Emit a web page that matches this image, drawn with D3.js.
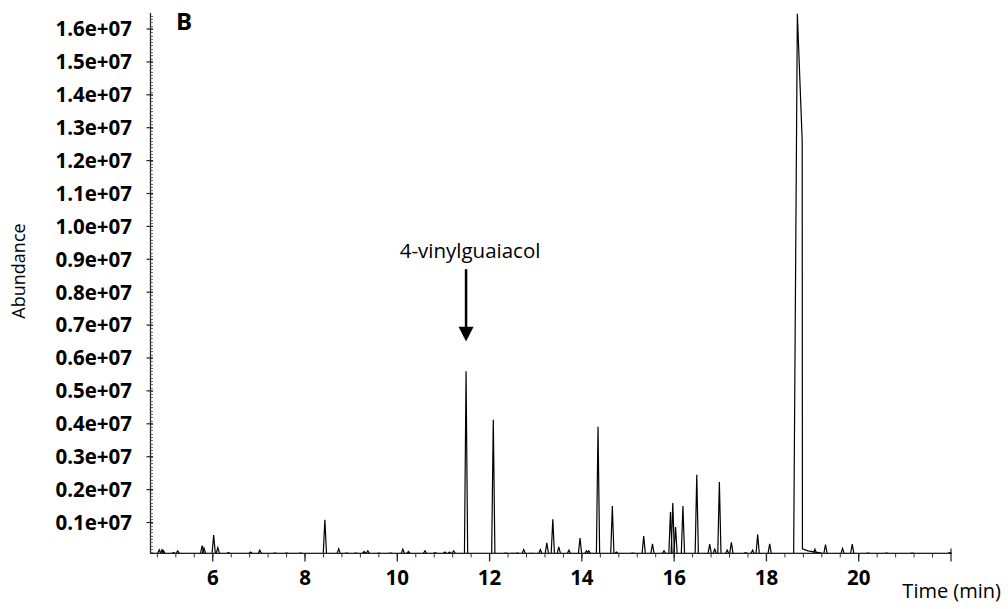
<!DOCTYPE html>
<html>
<head>
<meta charset="utf-8">
<script src="https://cdn.jsdelivr.net/npm/d3@7"></script>
<style>
  body { margin: 0; background: #fff; }
  .tick-label { font-family: "Open Sans", sans-serif; font-weight: bold; font-size: 20.5px; fill: #000; }
  .axis-title { font-family: "Open Sans", sans-serif; fill: #000; }
</style>
</head>
<body>
<div id="chart"></div>
<script>
// peak list (time in min, abundance)
var peakTimes = [4.84, 4.90, 4.93, 5.15, 5.24, 5.77, 5.81, 6.02, 6.11, 6.34, 6.82, 7.02, 7.35, 7.60, 7.90,
  8.43, 8.73, 8.90, 9.10, 9.28, 9.36, 9.60, 9.85, 10.12, 10.24, 10.60, 10.82, 11.03, 11.13, 11.22,
  11.49, 12.08, 12.35, 12.50, 12.60, 12.74, 12.90, 13.10, 13.24, 13.37, 13.50, 13.72, 13.96, 14.10, 14.15,
  14.35, 14.66, 14.75, 15.10, 15.34, 15.53, 15.78, 15.92, 15.97, 16.03, 16.19, 16.49, 16.77, 16.88, 16.98,
  17.15, 17.24, 17.55, 17.70, 17.81, 18.07, 19.05, 19.28, 19.65, 19.86, 20.20, 20.60, 21.16, 21.97];
var peakAbundance = [170000, 170000, 150000, 90000, 140000, 300000, 220000, 620000, 240000, 80000, 100000, 160000, 70000, 70000, 70000,
  1080000, 200000, 70000, 70000, 120000, 140000, 70000, 70000, 190000, 120000, 140000, 80000, 100000, 100000, 140000,
  5600000, 4120000, 70000, 60000, 70000, 180000, 60000, 180000, 380000, 1100000, 260000, 160000, 530000, 140000, 140000,
  3910000, 1500000, 100000, 70000, 590000, 350000, 140000, 1320000, 1590000, 860000, 1500000, 2450000, 340000, 190000, 2230000,
  160000, 400000, 80000, 160000, 640000, 350000, 190000, 330000, 210000, 340000, 70000, 70000, 70000, 80000];

// the large peak near 18.7 min, drawn point by point
var mainPeakTimes = [18.59, 18.67, 18.775, 18.78, 18.90, 19.20];
var mainPeakAbundance = [60000, 16460000, 12600000, 200000, 140000, 70000];

var baseLevel = 60000;

var yTickValues = [1e6, 2e6, 3e6, 4e6, 5e6, 6e6, 7e6, 8e6, 9e6, 10e6, 11e6, 12e6, 13e6, 14e6, 15e6, 16e6];
var yTickLabels = ["0.1e+07", "0.2e+07", "0.3e+07", "0.4e+07", "0.5e+07", "0.6e+07", "0.7e+07", "0.8e+07",
  "0.9e+07", "1.0e+07", "1.1e+07", "1.2e+07", "1.3e+07", "1.4e+07", "1.5e+07", "1.6e+07"];
var xTickValues = [6, 8, 10, 12, 14, 16, 18, 20];
var xTickLabels = ["6", "8", "10", "12", "14", "16", "18", "20"];

var annotationTime = 11.49;
var annotationText = "4-vinylguaiacol";

var width = 1008, height = 609;

var xScale = d3.scaleLinear()
    .domain([4.64, 22])
    .range([150, 951]);

var yScale = d3.scaleLinear()
    .domain([0, 16e6])
    .range([555.4, 29]);

var svg = d3.select("#chart").append("svg")
    .attr("width", width)
    .attr("height", height);

var axisY = yScale(baseLevel);
var axisX = xScale.range()[0] + 0.5;

// baseline of the trace
var line = d3.line()
    .x(function(d) { return xScale(d[0]); })
    .y(function(d) { return yScale(d[1]); });

svg.append("path")
    .datum([[4.66, baseLevel], [21.99, baseLevel]])
    .attr("d", line)
    .attr("fill", "none")
    .attr("stroke", "#000")
    .attr("stroke-width", 1);

// small peaks as narrow spikes
var halfWidth = 0.035;
var peaks = peakTimes.map(function(t, i) { return [t, peakAbundance[i]]; });

svg.selectAll(".peak")
    .data(peaks)
  .enter().append("path")
    .attr("class", "peak")
    .attr("d", function(d) {
      return line([[d[0] - halfWidth, baseLevel], [d[0], d[1]], [d[0] + halfWidth, baseLevel]]);
    })
    .attr("fill", "none")
    .attr("stroke", "#000")
    .attr("stroke-width", 1.2)
    .attr("stroke-linejoin", "miter");

svg.append("path")
    .datum(mainPeakTimes.map(function(t, i) { return [t, mainPeakAbundance[i]]; }))
    .attr("d", line)
    .attr("fill", "none")
    .attr("stroke", "#000")
    .attr("stroke-width", 1.2);

// y axis: line, major ticks to the left, minor ticks to the right
var yAxis = svg.append("g").attr("class", "y axis");

yAxis.append("line")
    .attr("x1", axisX).attr("x2", axisX)
    .attr("y1", 13).attr("y2", axisY)
    .attr("stroke", "#222").attr("stroke-width", 1.3);

yAxis.selectAll(".minor")
    .data(d3.range(1, 165).map(function(i) { return i * 1e5; }))
  .enter().append("line")
    .attr("x1", axisX).attr("x2", axisX + 2.5)
    .attr("y1", function(d) { return Math.round(yScale(d)) + 0.5; })
    .attr("y2", function(d) { return Math.round(yScale(d)) + 0.5; })
    .attr("stroke", "#555").attr("stroke-width", 0.8);

yAxis.selectAll(".major")
    .data(yTickValues)
  .enter().append("line")
    .attr("x1", axisX - 4).attr("x2", axisX + 2.5)
    .attr("y1", function(d) { return yScale(d); })
    .attr("y2", function(d) { return yScale(d); })
    .attr("stroke", "#222").attr("stroke-width", 1.2);

yAxis.selectAll(".tick-label")
    .data(yTickValues)
  .enter().append("text")
    .attr("class", "tick-label")
    .attr("x", 132)
    .attr("y", function(d) { return yScale(d); })
    .attr("dy", "0.36em")
    .attr("text-anchor", "end")
    .text(function(d, i) { return yTickLabels[i]; });

// x axis
var xAxis = svg.append("g").attr("class", "x axis");

xAxis.append("line")
    .attr("x1", xScale.range()[0]).attr("x2", xScale(22) + 1)
    .attr("y1", axisY).attr("y2", axisY)
    .attr("stroke", "#222").attr("stroke-width", 1.3);

xAxis.selectAll(".minor")
    .data(d3.range(0, 43).map(function(i) { return 4.8 + i * 0.4; }))
  .enter().append("line")
    .attr("x1", function(d) { return xScale(d); })
    .attr("x2", function(d) { return xScale(d); })
    .attr("y1", axisY).attr("y2", axisY + 4)
    .attr("stroke", "#333").attr("stroke-width", 1);

xAxis.selectAll(".major")
    .data(xTickValues)
  .enter().append("line")
    .attr("x1", function(d) { return xScale(d); })
    .attr("x2", function(d) { return xScale(d); })
    .attr("y1", axisY).attr("y2", axisY + 8)
    .attr("stroke", "#222").attr("stroke-width", 1.3);

xAxis.append("line")
    .attr("x1", xScale(22)).attr("x2", xScale(22))
    .attr("y1", axisY - 5).attr("y2", axisY + 8)
    .attr("stroke", "#222").attr("stroke-width", 1.2);

xAxis.selectAll(".tick-label")
    .data(xTickValues)
  .enter().append("text")
    .attr("class", "tick-label")
    .attr("x", function(d) { return xScale(d); })
    .attr("y", 585)
    .attr("text-anchor", "middle")
    .text(function(d, i) { return xTickLabels[i]; });

// titles
svg.append("text")
    .attr("class", "axis-title")
    .attr("x", 1001)
    .attr("y", 598)
    .attr("text-anchor", "end")
    .style("font-size", "20px")
    .text("Time (min)");

svg.append("text")
    .attr("class", "axis-title")
    .attr("transform", "translate(25,271) rotate(-90)")
    .attr("text-anchor", "middle")
    .style("font-size", "18px")
    .text("Abundance");

svg.append("text")
    .attr("class", "axis-title")
    .attr("x", 176)
    .attr("y", 30)
    .style("font-size", "24px")
    .style("font-weight", "bold")
    .text("B");

// annotation arrow
var ax = xScale(annotationTime);
svg.append("text")
    .attr("class", "axis-title")
    .attr("x", ax + 4)
    .attr("y", yScale(9.05e6))
    .attr("text-anchor", "middle")
    .style("font-size", "20.5px")
    .text(annotationText);

svg.append("line")
    .attr("x1", ax).attr("x2", ax)
    .attr("y1", yScale(8.7e6)).attr("y2", yScale(6.9e6))
    .attr("stroke", "#000").attr("stroke-width", 2.5);

svg.append("path")
    .attr("d", "M" + (ax - 7.5) + "," + yScale(6.95e6) + "L" + (ax + 7.5) + "," + yScale(6.95e6) +
      "L" + ax + "," + yScale(6.5e6) + "Z")
    .attr("fill", "#000");
</script>
</body>
</html>
